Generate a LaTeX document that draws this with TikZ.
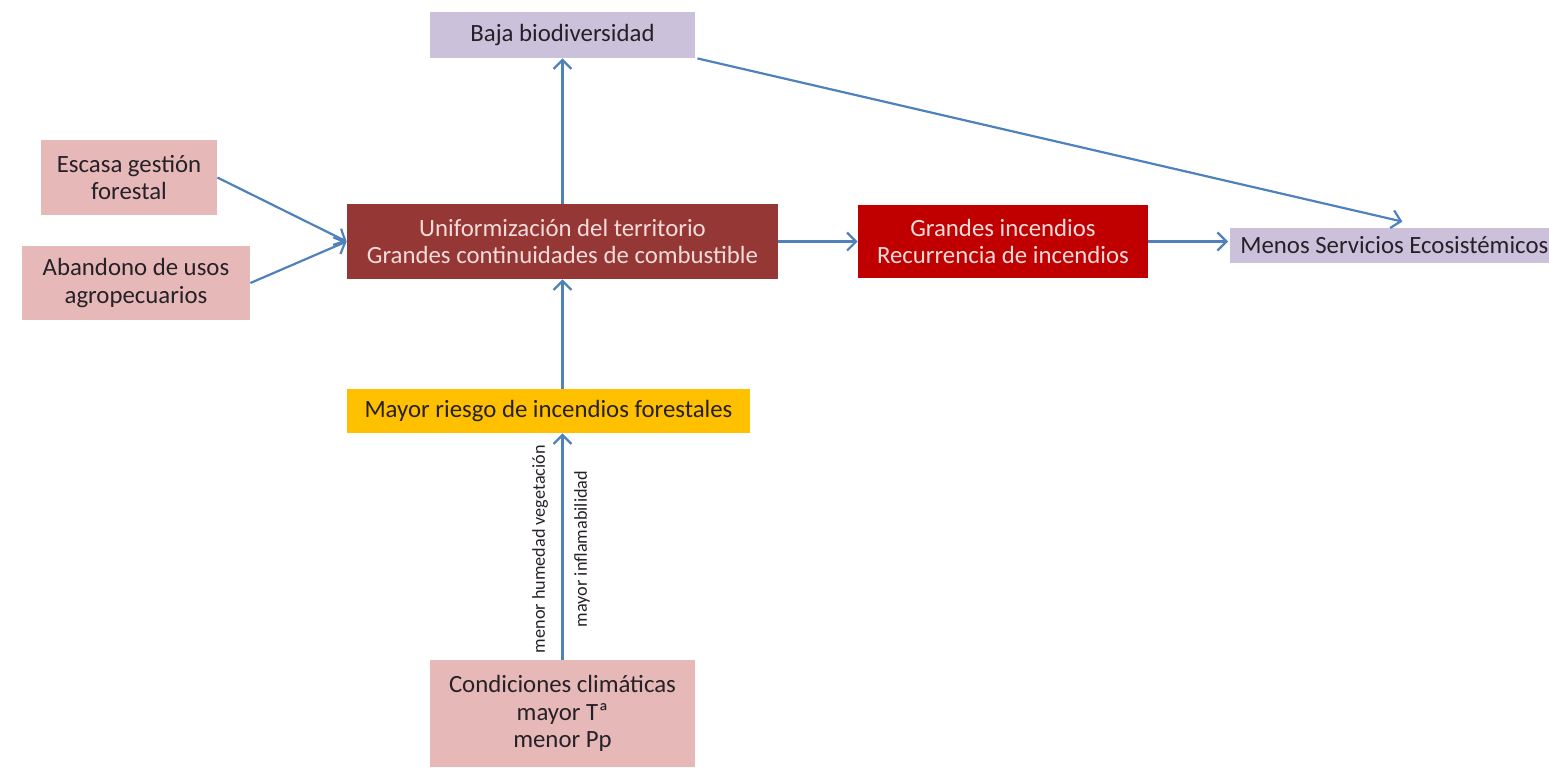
\documentclass[tikz,border=0pt]{standalone}
\usepackage{fontspec}
\setmainfont{Carlito}
\usetikzlibrary{arrows.meta}
\definecolor{lav}{RGB}{204,193,218}
\definecolor{pinkbox}{RGB}{230,185,184}
\definecolor{darkred}{RGB}{149,55,53}
\definecolor{firered}{RGB}{192,0,0}
\definecolor{amber}{RGB}{255,192,0}
\definecolor{arrowblue}{RGB}{79,129,189}
\definecolor{lighttext}{RGB}{242,220,219}
\definecolor{darktext}{RGB}{38,32,40}
\begin{document}
\begin{tikzpicture}[x=0.5pt,y=-0.5pt,
  box/.style={draw=none, inner sep=0pt, align=center, text=darktext,
    font=\fontsize{12.4}{13.7}\selectfont},
  lbl/.style={inner sep=0pt, text=darktext, font=\fontsize{9.1}{10}\selectfont},
  arr/.style={draw=arrowblue, line width=1.1pt, -{Straight Barb[length=4.5pt,width=9pt,line width=1.1pt]}}]
\useasboundingbox (0,0) rectangle (1549,767);

\node[box, fill=lav, minimum width=132.5pt, minimum height=23pt] (baja) at (562.5,35) {Baja biodiversidad};
\node[box, fill=pinkbox, minimum width=88pt, minimum height=37.5pt] (escasa) at (129,177.5) {Escasa gestión\\forestal};
\node[box, fill=pinkbox, minimum width=114pt, minimum height=37pt] (aband) at (136,283) {Abandono de usos\\agropecuarios};
\node[box, fill=darkred, text=lighttext, minimum width=215.5pt, minimum height=37.5pt] (central) at (562.5,241.5) {Uniformización del territorio\\Grandes continuidades de combustible};
\node[box, fill=firered, text=lighttext, minimum width=145pt, minimum height=36.5pt] (grandes) at (1003,241.5) {Grandes incendios\\Recurrencia de incendios};
\node[box, fill=lav, anchor=west, align=flush left, text width=162pt, inner xsep=5pt, minimum height=17.5pt] (menos) at (1230,245.5) {Menos Servicios Ecosistémicos};
\node[box, fill=amber, minimum width=201.5pt, minimum height=22pt] (riesgo) at (548.5,411) {Mayor riesgo de incendios forestales};
\node[box, fill=pinkbox, minimum width=132.5pt, minimum height=53.5pt] (cond) at (562.5,713.5) {Condiciones climáticas\\mayor Tª\\menor Pp};

\node[lbl, rotate=90] (l1) at (540,549) {menor humedad vegetación};
\node[lbl, rotate=90] (l2) at (582,549) {mayor inflamabilidad};

\draw[arr] (escasa.east) -- (central.west);
\draw[arr] (aband.east) -- (central.west);
\draw[arr] (central.north) -- (baja.south);
\draw[arr] (riesgo.north -| central.south) -- (central.south);
\draw[arr] (cond.north) -- (riesgo.south -| cond.north);
\draw[arr] (central.east) -- (grandes.west);
\draw[arr] (grandes.east) -- ([xshift=-1pt]grandes.east -| menos.west);
\draw[arr] ([xshift=1pt]baja.south east) -- ([yshift=3pt]menos.north);
\end{tikzpicture}
\end{document}
